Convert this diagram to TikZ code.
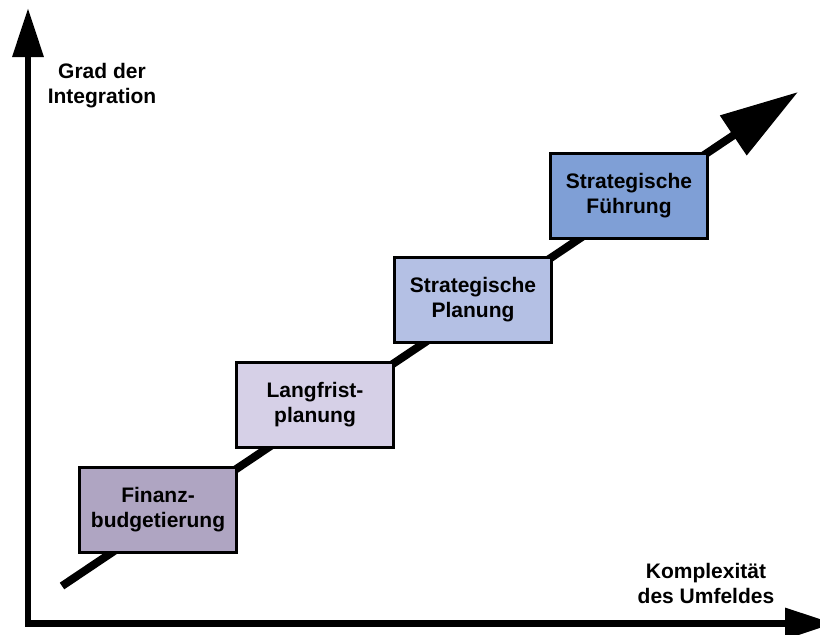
\documentclass[tikz,border=0pt]{standalone}
\usepackage{fontspec}
\setmainfont{Liberation Sans}
\usetikzlibrary{arrows.meta}

\definecolor{finanz}{HTML}{AFA5C2}
\definecolor{langfrist}{HTML}{D6D0E7}
\definecolor{planung}{HTML}{B4C0E4}
\definecolor{fuehrung}{HTML}{7F9FD6}

\tikzset{
  stage/.style={draw=black, line width=3pt, minimum width=157pt, minimum height=85pt,
    inner sep=0pt, align=center, font=\bfseries\fontsize{21}{25}\selectfont},
  axislabel/.style={align=center, font=\bfseries\fontsize{21}{25}\selectfont},
  axis/.style={line width=6.5pt, -{Triangle[length=49pt,width=30pt]}},
  trend/.style={line width=8pt, -{Triangle[length=78pt,width=46pt]}},
}

\begin{document}
\begin{tikzpicture}[x=1pt,y=-1pt]
  \useasboundingbox (0,0) rectangle (820,635);

  % axes
  \coordinate (origin) at (28,623.5);
  \coordinate (ytip) at (28,8);
  \coordinate (xtip) at (834,623.5);
  \begin{scope}
    \clip (0,0) rectangle (820,635);
    \draw[axis] (28,626.5) -- (ytip);
    \draw[axis] (25,623.5) -- (xtip);
  \end{scope}

  % rising trend behind the stages
  \coordinate (tstart) at (62,586);
  \coordinate (tend) at (798,92);
  \draw[trend] (tstart) -- (tend);

  % stages
  \node[stage, fill=finanz]    (fin)  at (158,509.5) {Finanz-\\budgetierung};
  \node[stage, fill=langfrist] (lang) at (315,405)   {Langfrist-\\planung};
  \node[stage, fill=planung]   (plan) at (473,300)   {Strategische\\Planung};
  \node[stage, fill=fuehrung]  (fuhr) at (629,195.5) {Strategische\\Führung};

  % axis labels
  \node[axislabel] (ylab) at (102,86) {Grad der\\Integration};
  \node[axislabel] (xlab) at (706,583) {Komplexität\\des Umfeldes};
\end{tikzpicture}
\end{document}
